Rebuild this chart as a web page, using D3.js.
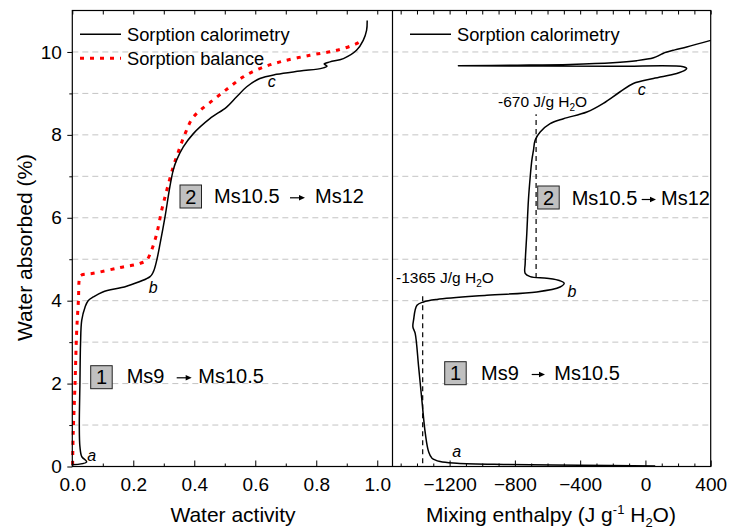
<!DOCTYPE html>
<html>
<head>
<meta charset="utf-8">
<script src="https://cdn.jsdelivr.net/npm/d3@7"></script>
<style>
  html, body { margin: 0; padding: 0; background: #fff; }
  svg { display: block; font-family: "Liberation Sans", Arial, sans-serif; }
</style>
</head>
<body>
<svg id="chart" width="730" height="531"></svg>
<script>
// Water uptake measured by sorption calorimetry, as [water activity, water absorbed %]
const calorimetryActivity = [
  [-0.002, 0.04], [0.047, 0.11], [0.031, 0.24], [0.025, 0.48], [0.023, 0.96],
  [0.025, 2.0], [0.027, 2.97], [0.031, 3.53], [0.042, 3.85], [0.052, 4.0],
  [0.069, 4.09], [0.10, 4.21], [0.178, 4.35], [0.255, 4.58], [0.266, 4.70],
  [0.277, 4.98], [0.288, 5.38], [0.304, 6.02], [0.32, 6.75], [0.331, 7.15],
  [0.342, 7.39], [0.364, 7.71], [0.397, 8.03], [0.451, 8.39], [0.506, 8.67],
  [0.539, 8.92], [0.572, 9.16], [0.615, 9.36], [0.67, 9.46], [0.747, 9.54],
  [0.82, 9.61], [0.835, 9.66], [0.826, 9.71], [0.845, 9.76], [0.889, 9.84],
  [0.932, 10.04], [0.954, 10.28], [0.965, 10.52], [0.967, 10.76]
];

// Water uptake measured on the sorption balance
const balanceActivity = [
  [0.001, 0.04], [0.003, 0.8], [0.009, 2.0], [0.014, 3.2], [0.02, 4.0],
  [0.025, 4.58], [0.031, 4.62], [0.069, 4.66], [0.156, 4.80], [0.222, 4.90],
  [0.244, 4.98], [0.26, 5.22], [0.277, 5.62], [0.293, 6.18], [0.31, 6.67],
  [0.331, 7.23], [0.348, 7.6], [0.37, 8.03], [0.397, 8.43], [0.462, 8.84],
  [0.517, 9.16], [0.561, 9.40], [0.615, 9.60], [0.681, 9.76], [0.779, 9.92],
  [0.867, 10.04], [0.932, 10.20], [0.954, 10.30]
];

// Mixing enthalpy (J/g H2O) against water absorbed %
const calorimetryEnthalpy = [
  [60, 0.01], [-400, 0.03], [-870, 0.05], [-1155, 0.08], [-1258, 0.12],
  [-1308, 0.2], [-1329, 0.36], [-1349, 0.8], [-1370, 1.6], [-1390, 2.41],
  [-1411, 3.21], [-1425, 3.37], [-1421, 3.53], [-1400, 3.89], [-1360, 3.97],
  [-1278, 4.03], [-972, 4.13], [-666, 4.21], [-523, 4.33], [-498, 4.42],
  [-523, 4.48], [-604, 4.54], [-706, 4.58], [-737, 4.66], [-737, 4.90],
  [-727, 5.62], [-717, 6.43], [-706, 6.99], [-696, 7.39], [-686, 7.63],
  [-676, 7.87], [-645, 8.07], [-584, 8.27], [-502, 8.39], [-359, 8.55],
  [-258, 8.76], [-155, 9.04], [-74, 9.24], [49, 9.36], [192, 9.48],
  [243, 9.56], [253, 9.60], [232, 9.645], [-200, 9.655], [-1146, 9.665],
  [-800, 9.68], [-462, 9.70], [-200, 9.74], [-53, 9.79], [50, 9.86],
  [90, 9.93], [110, 9.97], [180, 10.05], [253, 10.12], [400, 10.28]
];

// Axis ticks
const waterTicks = [0, 2, 4, 6, 8, 10];
const waterMinor = [1, 3, 5, 7, 9];
const gridLevels = [1, 2, 3, 4, 5, 6, 7, 8, 9, 10];
const activityTicks = [0, 0.2, 0.4, 0.6, 0.8, 1.0];
const activityMinor = [0.1, 0.3, 0.5, 0.7, 0.9];
const enthalpyTicks = [-1200, -800, -400, 0, 400];
const enthalpyMinor = [-1500, -1400, -1300, -1100, -1000, -900, -700, -600, -500, -300, -200, -100, 100, 200, 300];

// Mean enthalpy of each step
const enthalpyMarkers = [
  { value: -1365, from: 0.08, to: 4.13, text: "-1365 J/g H", tx: 396, ty: 283.3 },
  { value: -670, from: 4.55, to: 8.5, text: "-670 J/g H", tx: 498, ty: 106.7 }
];

const svg = d3.select("#chart");
const yS = d3.scaleLinear([0, 11], [466.5, 10.5]);
const xA = d3.scaleLinear([0, 1.05], [72.3, 392.5]);
const xE = d3.scaleLinear([-1550, 400], [392.5, 710.7]);
const yTop = yS(11), yBottom = yS(0);

// dashed grid
svg.append("g").selectAll("line").data(gridLevels).join("line")
  .attr("x1", xA(0)).attr("x2", xE(400))
  .attr("y1", d => yS(d)).attr("y2", d => yS(d))
  .attr("stroke", "#c4c4c4").attr("stroke-width", 1)
  .attr("stroke-dasharray", "6,4");

const line = (xs) => d3.line().x(d => xs(d[0])).y(d => yS(d[1]))
  .curve(d3.curveCatmullRom.alpha(0.5));

svg.append("path").datum(balanceActivity)
  .attr("d", line(xA)).attr("fill", "none")
  .attr("stroke", "#ff0000").attr("stroke-width", 3)
  .attr("stroke-dasharray", "4,6");

svg.append("path").datum(calorimetryActivity)
  .attr("d", line(xA)).attr("fill", "none")
  .attr("stroke", "#000").attr("stroke-width", 1.5);

svg.append("path").datum(calorimetryEnthalpy)
  .attr("d", line(xE)).attr("fill", "none")
  .attr("stroke", "#000").attr("stroke-width", 1.5);

// enthalpy markers
enthalpyMarkers.forEach(m => {
  svg.append("line")
    .attr("x1", xE(m.value)).attr("x2", xE(m.value))
    .attr("y1", yS(m.from)).attr("y2", yS(m.to))
    .attr("stroke", "#000").attr("stroke-width", 1.2)
    .attr("stroke-dasharray", "5,4");
  const t = svg.append("text").attr("x", m.tx).attr("y", m.ty)
    .attr("font-size", 15.5).attr("fill", "#000").text(m.text);
  t.append("tspan").attr("font-size", 10).attr("dy", 4).text("2");
  t.append("tspan").attr("dy", -4).text("O");
});

// axes
const fmtA = d3.format(".1f");
function styleAxis(g) {
  g.select(".domain").remove();
  g.selectAll("line").attr("stroke", "#000").attr("stroke-width", 1);
  g.selectAll("text").attr("font-size", 19).attr("fill", "#000")
    .attr("font-family", "Liberation Sans, Arial, sans-serif");
}
svg.append("g").attr("transform", `translate(0,${yBottom})`)
  .call(d3.axisBottom(xA).tickValues(activityTicks).tickFormat(fmtA).tickSize(-6).tickPadding(11))
  .call(styleAxis);
svg.append("g").attr("transform", `translate(0,${yBottom})`)
  .call(d3.axisBottom(xA).tickValues(activityMinor).tickFormat("").tickSize(-3))
  .call(styleAxis);
svg.append("g").attr("transform", `translate(0,${yBottom})`)
  .call(d3.axisBottom(xE).tickValues(enthalpyTicks).tickFormat(d3.format("d")).tickSize(-6).tickPadding(11))
  .call(styleAxis);
svg.append("g").attr("transform", `translate(0,${yBottom})`)
  .call(d3.axisBottom(xE).tickValues(enthalpyMinor).tickFormat("").tickSize(-3))
  .call(styleAxis);
svg.append("g").attr("transform", `translate(0,${yTop})`)
  .call(d3.axisTop(xA).tickValues(activityTicks.concat(activityMinor)).tickFormat("").tickSize(-4))
  .call(styleAxis);
svg.append("g").attr("transform", `translate(0,${yTop})`)
  .call(d3.axisTop(xE).tickValues(enthalpyTicks.concat(enthalpyMinor)).tickFormat("").tickSize(-4))
  .call(styleAxis);
svg.append("g").attr("transform", `translate(${xA(0)},0)`)
  .call(d3.axisLeft(yS).tickValues(waterTicks).tickFormat(d3.format("d")).tickSize(5).tickPadding(5.5))
  .call(styleAxis);
svg.append("g").attr("transform", `translate(${xA(0)},0)`)
  .call(d3.axisLeft(yS).tickValues(waterMinor).tickFormat("").tickSize(3))
  .call(styleAxis);

// frame and panel divider
svg.append("rect").attr("x", xA(0)).attr("y", yTop)
  .attr("width", xE(400) - xA(0)).attr("height", yBottom - yTop)
  .attr("fill", "none").attr("stroke", "#000").attr("stroke-width", 1.2);
svg.append("line").attr("x1", xE(-1550)).attr("x2", xE(-1550))
  .attr("y1", yTop).attr("y2", yBottom).attr("stroke", "#000").attr("stroke-width", 1.2);

// axis titles
svg.append("text").attr("x", 233).attr("y", 521.5).attr("text-anchor", "middle")
  .attr("font-size", 21).text("Water activity");
const xt = svg.append("text").attr("x", 551).attr("y", 521.5).attr("text-anchor", "middle")
  .attr("font-size", 21);
xt.append("tspan").text("Mixing enthalpy (J g");
xt.append("tspan").attr("font-size", 13).attr("dy", -8).text("-1");
xt.append("tspan").attr("dy", 8).text(" H");
xt.append("tspan").attr("font-size", 13).attr("dy", 5).text("2");
xt.append("tspan").attr("dy", -5).text("O)");
svg.append("text").attr("transform", "translate(32,247.5) rotate(-90)")
  .attr("text-anchor", "middle").attr("font-size", 21).text("Water absorbed (%)");

// legends
const legends = [
  { x: 80, y: 34.3, label: "Sorption calorimetry", color: "#000", dash: null, w: 1.5 },
  { x: 80, y: 58.3, label: "Sorption balance", color: "#ff0000", dash: "4,6", w: 3 },
  { x: 410, y: 34.3, label: "Sorption calorimetry", color: "#000", dash: null, w: 1.5 }
];
legends.forEach(l => {
  svg.append("line").attr("x1", l.x).attr("x2", l.x + 41).attr("y1", l.y).attr("y2", l.y)
    .attr("stroke", l.color).attr("stroke-width", l.w)
    .attr("stroke-dasharray", l.dash);
  svg.append("text").attr("x", l.x + 47).attr("y", l.y + 7).attr("font-size", 18.3).text(l.label);
});

// point labels
const pointLabels = [
  { t: "a", x: 91.7, y: 460.7 }, { t: "b", x: 153.3, y: 293.3 }, { t: "c", x: 271.7, y: 87.3 },
  { t: "a", x: 456.7, y: 456.7 }, { t: "b", x: 572, y: 296.7 }, { t: "c", x: 641.7, y: 95 }
];
svg.append("g").selectAll("text").data(pointLabels).join("text")
  .attr("x", d => d.x).attr("y", d => d.y).attr("text-anchor", "middle")
  .attr("font-size", 16).attr("font-style", "italic").text(d => d.t);

// step labels
const steps = [
  { n: "1", bx: 90.7, by: 365.7, a: "Ms9", ax: 126.7, r0: 176.7, r1: 191.7, b: "Ms10.5", bxT: 198.3, base: 383.3 },
  { n: "2", bx: 180, by: 185, a: "Ms10.5", ax: 214, r0: 290, r1: 305, b: "Ms12", bxT: 315, base: 203.3 },
  { n: "2", bx: 537.7, by: 186, a: "Ms10.5", ax: 571.7, r0: 641.7, r1: 656, b: "Ms12", bxT: 661, base: 205 },
  { n: "1", bx: 444.7, by: 361.7, a: "Ms9", ax: 481, r0: 531.7, r1: 545, b: "Ms10.5", bxT: 554.3, base: 380 }
];
steps.forEach(s => {
  svg.append("rect").attr("x", s.bx).attr("y", s.by).attr("width", 21.5).attr("height", 23)
    .attr("fill", "#c0c0c0").attr("stroke", "#222").attr("stroke-width", 1);
  svg.append("text").attr("x", s.bx + 10.75).attr("y", s.by + 18.5).attr("text-anchor", "middle")
    .attr("font-size", 20).text(s.n);
  svg.append("text").attr("x", s.ax).attr("y", s.base).attr("font-size", 20).text(s.a);
  svg.append("text").attr("x", s.bxT).attr("y", s.base).attr("font-size", 20).text(s.b);
  const ay = s.base - 5.5;
  svg.append("line").attr("x1", s.r0).attr("x2", s.r1 - 4).attr("y1", ay).attr("y2", ay)
    .attr("stroke", "#000").attr("stroke-width", 1.2);
  svg.append("path").attr("d", `M${s.r1},${ay} L${s.r1 - 6},${ay - 2.8} L${s.r1 - 6},${ay + 2.8} Z`)
    .attr("fill", "#000");
});
</script>
</body>
</html>
